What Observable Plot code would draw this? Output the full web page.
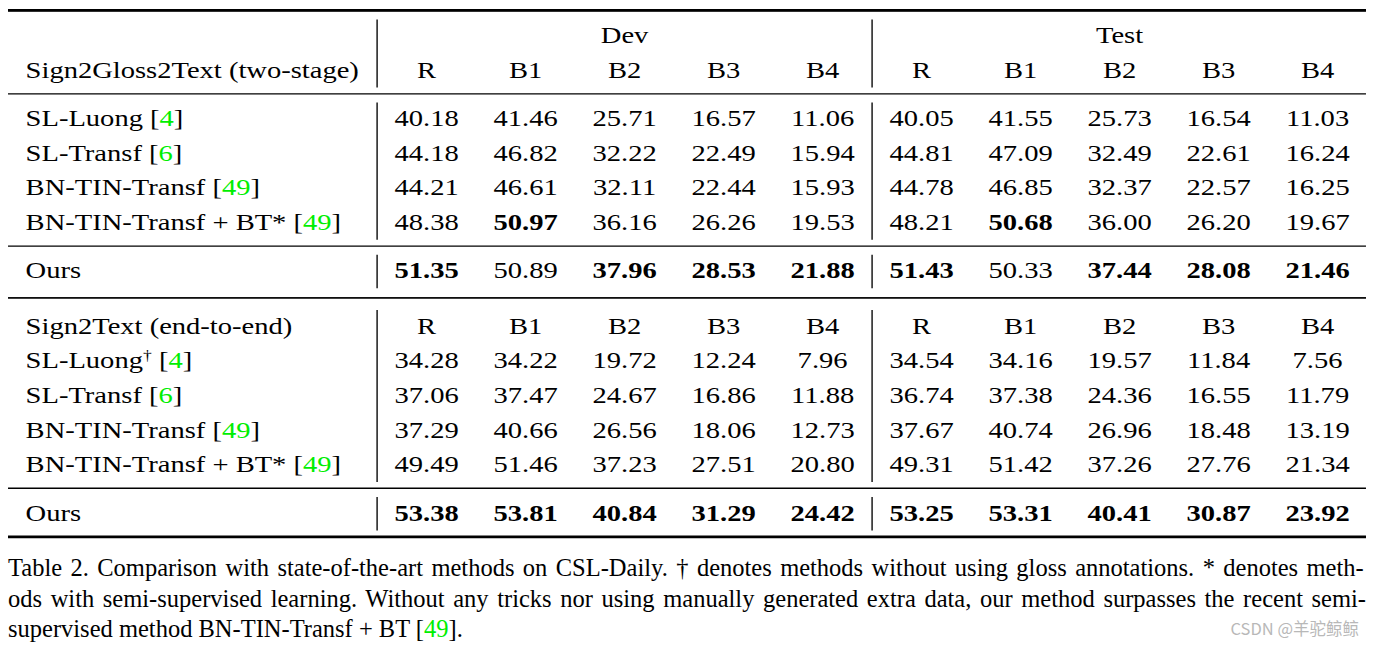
<!DOCTYPE html>
<html><head><meta charset="utf-8">
<script src="https://cdn.jsdelivr.net/npm/d3@7"></script>
<script src="https://cdn.jsdelivr.net/npm/@observablehq/plot@0.6"></script>
<style>
html,body{margin:0;padding:0;background:#fff;}
#wrap{position:relative;width:1373px;height:646px;overflow:hidden;background:#fff;}
#table{position:absolute;left:0;top:0;transform-origin:0 0;}
#caption{position:absolute;left:8px;top:553px;width:1358px;font-family:"Liberation Serif",serif;font-size:24.5px;line-height:30.5px;color:#000;}
#caption .ln{white-space:nowrap;display:block;}
#caption .cite{color:#00ee00;}
#wm{position:absolute;right:14px;top:616px;font-family:"Noto Sans CJK SC",sans-serif;font-size:16.5px;color:#b8b8b8;white-space:nowrap;}
</style>
</head><body>
<div id="wrap">
  <div id="table"></div>
  <div id="caption"></div>
  <div id="wm">CSDN @羊驼鲸鲸</div>
</div>
<script>
// ---------- data ----------
const splits = ["Dev", "Test"];
const metrics = ["R", "B1", "B2", "B3", "B4"];

const twoStageTitle = "Sign2Gloss2Text (two-stage)";
const twoStageMethods = ["SL-Luong [4]", "SL-Transf [6]", "BN-TIN-Transf [49]", "BN-TIN-Transf + BT* [49]", "Ours"];
const twoStageDev = [
  [40.18, 41.46, 25.71, 16.57, 11.06],
  [44.18, 46.82, 32.22, 22.49, 15.94],
  [44.21, 46.61, 32.11, 22.44, 15.93],
  [48.38, 50.97, 36.16, 26.26, 19.53],
  [51.35, 50.89, 37.96, 28.53, 21.88]
];
const twoStageTest = [
  [40.05, 41.55, 25.73, 16.54, 11.03],
  [44.81, 47.09, 32.49, 22.61, 16.24],
  [44.78, 46.85, 32.37, 22.57, 16.25],
  [48.21, 50.68, 36.00, 26.20, 19.67],
  [51.43, 50.33, 37.44, 28.08, 21.46]
];

const endToEndTitle = "Sign2Text (end-to-end)";
const endToEndMethods = ["SL-Luong† [4]", "SL-Transf [6]", "BN-TIN-Transf [49]", "BN-TIN-Transf + BT* [49]", "Ours"];
const endToEndDev = [
  [34.28, 34.22, 19.72, 12.24, 7.96],
  [37.06, 37.47, 24.67, 16.86, 11.88],
  [37.29, 40.66, 26.56, 18.06, 12.73],
  [49.49, 51.46, 37.23, 27.51, 20.80],
  [53.38, 53.81, 40.84, 31.29, 24.42]
];
const endToEndTest = [
  [34.54, 34.16, 19.57, 11.84, 7.56],
  [36.74, 37.38, 24.36, 16.55, 11.79],
  [37.67, 40.74, 26.96, 18.48, 13.19],
  [49.31, 51.42, 37.26, 27.76, 21.34],
  [53.25, 53.31, 40.41, 30.87, 23.92]
];

const captionLines = [
  "Table 2.  Comparison with state-of-the-art methods on CSL-Daily. † denotes methods without using gloss annotations. * denotes meth-",
  "ods with semi-supervised learning. Without any tricks nor using manually generated extra data, our method surpasses the recent semi-",
  "supervised method BN-TIN-Transf + BT [49]."
];

// ---------- layout ----------
const K = 1.2;            // horizontal stretch of the table
const W = 1373 / K;
const FONT = 23.8;
const STEP = 1, RULE = 1.4, DOUBLE = 1.6;
const sections = [
  {title: twoStageTitle, methods: twoStageMethods, vals: [twoStageDev, twoStageTest], ruleAfterHead: true},
  {title: endToEndTitle, methods: endToEndMethods, vals: [endToEndDev, endToEndTest], ruleAfterHead: false}
];

const heads = [], rows = [], cells = [], rules = [], blocks = [];
let s = 0;
const groupSlot = s;
rules.push({slot: s - 0.72, w: 2.2, dy: 0});
let blockStart = s;
sections.forEach((sec, si) => {
  if (si === 0) { s += STEP; }
  else {
    rules.push({slot: s + DOUBLE / 2, w: 1.3, dy: -2.5});
    rules.push({slot: s + DOUBLE / 2, w: 1.3, dy: 2.5});
    s += DOUBLE; blockStart = s;
  }
  heads.push({title: sec.title, slot: s});
  const n = sec.methods.length;
  // column maxima within section
  const maxes = sec.vals.map(tab => metrics.map((_, m) => d3.max(tab, r => r[m])));
  sec.methods.forEach((label, i) => {
    const isOurs = i === n - 1;
    const ruled = (i === 0 && sec.ruleAfterHead) || isOurs;
    if (ruled) {
      blocks.push({a: blockStart, b: s});
      rules.push({slot: s + RULE / 2, w: 1.3, dy: 0});
      s += RULE; blockStart = s;
    } else s += STEP;
    rows.push({label, slot: s});
    sec.vals.forEach((tab, sp) => {
      tab[i].forEach((v, m) => {
        cells.push({col: sp * 5 + m, slot: s, text: v.toFixed(2), bold: v === maxes[sp][m]});
      });
    });
    if (isOurs) blocks.push({a: s, b: s});
  });
});
rules.push({slot: s + 0.7, w: 2.2, dy: 0});
const lastSlot = s;

const metricHeads = heads.flatMap(h => splits.flatMap((sp, si) => metrics.map((m, mi) => ({col: si * 5 + mi, slot: h.slot, text: m}))));
const seps = blocks.flatMap(b => splits.map((sp, si) => ({col: si * 5 - 0.5, a: b.a - 0.45, b: b.b + 0.52})));
const groupHeads = splits.map((sp, si) => ({col: si * 5 + 2, slot: groupSlot, text: sp}));

const textOpts = {lineAnchor: "middle", fill: "#000"};
const plot = Plot.plot({
  width: W, height: 548,
  marginLeft: 8 / K, marginRight: 7 / K, marginTop: 0, marginBottom: 0,
  x: {type: "linear", domain: [0, 9], range: [426 / K, 1317 / K], axis: null},
  y: {type: "linear", domain: [0, lastSlot], range: [35, 35 + lastSlot * 34.6], axis: null},
  style: {fontFamily: "'Liberation Serif', serif", fontSize: FONT + "px", background: "#fff", color: "#000"},
  marks: [
    Plot.ruleY(rules, {y: "slot", strokeWidth: "w", dy: "dy", stroke: "#000"}),
    Plot.ruleY(rules.filter(r => r.w > 2), {y: "slot", strokeWidth: 2.2, stroke: "#000"}),
    Plot.ruleX(seps, {x: "col", y1: "a", y2: "b", stroke: "#111", strokeWidth: 1.2}),
    Plot.text(groupHeads, {x: "col", y: "slot", text: "text", ...textOpts}),
    Plot.text(metricHeads, {x: "col", y: "slot", text: "text", ...textOpts}),
    Plot.text(heads, {y: "slot", text: "title", frameAnchor: "left", textAnchor: "start", dx: 17 / K, ...textOpts}),
    Plot.text(rows, {y: "slot", text: "label", frameAnchor: "left", textAnchor: "start", dx: 17 / K, ...textOpts}),
    Plot.text(cells.filter(c => !c.bold), {x: "col", y: "slot", text: "text", ...textOpts}),
    Plot.text(cells.filter(c => c.bold), {x: "col", y: "slot", text: "text", fontWeight: "bold", ...textOpts})
  ]
});

// style rich labels: superscript dagger and green citation numbers
d3.select(plot).selectAll("text").each(function () {
  const t = this.textContent;
  const m = /^(.*?)(†)?( \[)(\d+)(\])$/.exec(t);
  if (!m) return;
  const el = d3.select(this);
  el.text(null);
  el.append("tspan").text(m[1]);
  if (m[2]) {
    el.append("tspan").attr("font-size", "0.62em").attr("dy", "-0.55em").text(m[2]);
    el.append("tspan").attr("dy", "0.34em").text(m[3]);
  } else el.append("tspan").text(m[3]);
  el.append("tspan").attr("fill", "#00ee00").text(m[4]);
  el.append("tspan").text(m[5]);
});

const holder = document.getElementById("table");
holder.style.width = W + "px";
holder.style.transform = `scaleX(${K})`;
holder.appendChild(plot);

// caption with justified lines
const cap = document.getElementById("caption");
captionLines.forEach((line, i) => {
  const span = document.createElement("span");
  span.className = "ln";
  const parts = line.split(/(\[\d+\])/);
  parts.forEach(p => {
    const mm = /^\[(\d+)\]$/.exec(p);
    if (mm) {
      span.appendChild(document.createTextNode("["));
      const g = document.createElement("span"); g.className = "cite"; g.textContent = mm[1];
      span.appendChild(g);
      span.appendChild(document.createTextNode("]"));
    } else span.appendChild(document.createTextNode(p));
  });
  span.style.display = "inline-block";
  cap.appendChild(span);
  cap.appendChild(document.createElement("br"));
  if (i < captionLines.length - 1) {
    const w = span.getBoundingClientRect().width;
    const nSpaces = (line.match(/ /g) || []).length;
    span.style.wordSpacing = ((1358 - w) / nSpaces) + "px";
  }
});
</script>
</body></html>
